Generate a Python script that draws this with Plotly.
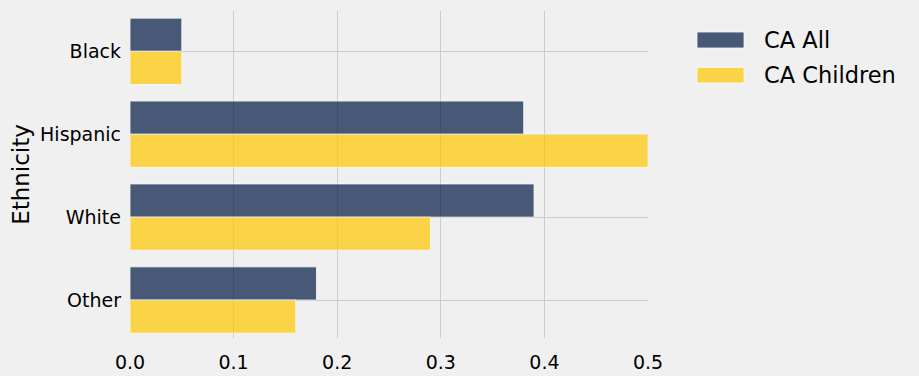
import plotly.graph_objects as go

categories = ["Black", "Hispanic", "White", "Other"]
ca_all = [0.05, 0.38, 0.39, 0.18]
ca_children = [0.05, 0.50, 0.29, 0.16]
x_ticks = [0.0, 0.1, 0.2, 0.3, 0.4, 0.5]
x_tick_labels = ["0.0", "0.1", "0.2", "0.3", "0.4", "0.5"]
series_names = ["CA All", "CA Children"]
series_colors = ["#001A44", "#FFC800"]

BG = "#f0f0f0"
FONT = "DejaVu Sans"
W, H = 919, 376
L, R, T, B = 130, 271, 11, 38
PW, PH = W - L - R, H - T - B


def px_x(px):
    return (px - L) / PW


def px_y(py):
    return (H - B - py) / PH


fig = go.Figure()
for name, vals, col in zip(series_names, [ca_all, ca_children], series_colors):
    fig.add_trace(go.Bar(
        y=categories, x=vals, orientation="h", name=name,
        marker=dict(color=col, line=dict(color="#ffffff", width=0.8)),
        opacity=0.7, showlegend=False,
    ))

# custom legend (wide swatches like the reference)
legend_rows = [(32, 48), (67.5, 83)]
for (y0, y1), name, col in zip(legend_rows, series_names, series_colors):
    fig.add_shape(type="rect", xref="paper", yref="paper",
                  x0=px_x(697), x1=px_x(744), y0=px_y(y1), y1=px_y(y0),
                  fillcolor=col, opacity=0.7,
                  line=dict(color="#ffffff", width=0.8))
    fig.add_annotation(xref="paper", yref="paper", x=px_x(762), y=px_y((y0 + y1) / 2),
                       text=name, showarrow=False, xanchor="left", yanchor="middle",
                       font=dict(family=FONT, size=22.5, color="#000000"))

fig.update_layout(
    width=W, height=H,
    paper_bgcolor=BG, plot_bgcolor=BG,
    margin=dict(l=L, r=R, t=T, b=B, autoexpand=False),
    barmode="group", bargap=0.2, bargroupgap=0,
    font=dict(family=FONT, color="#000000", size=19),
    showlegend=False,
)
fig.update_xaxes(
    range=[0, 0.5], tickvals=x_ticks, ticktext=x_tick_labels,
    showgrid=True, gridcolor="#cbcbcb", gridwidth=1, automargin=False,
    zeroline=False, showline=True, linecolor=BG, linewidth=2, mirror=True,
    ticks="", tickfont=dict(size=19, family=FONT), ticklabelstandoff=6,
)
fig.update_yaxes(
    type="category", categoryorder="array", categoryarray=categories,
    range=[3.458, -0.486], autorange=False, automargin=False,
    showgrid=True, gridcolor="#cbcbcb", gridwidth=1,
    zeroline=False, showline=False,
    ticks="", tickfont=dict(size=19, family=FONT), ticklabelstandoff=8,
    title=dict(text="Ethnicity", font=dict(size=23, family=FONT), standoff=4),
)

fig.write_html(
    "out.html",
    config={"displayModeBar": False},
    post_script="document.body.style.margin='0';document.body.style.overflow='hidden';",
)
